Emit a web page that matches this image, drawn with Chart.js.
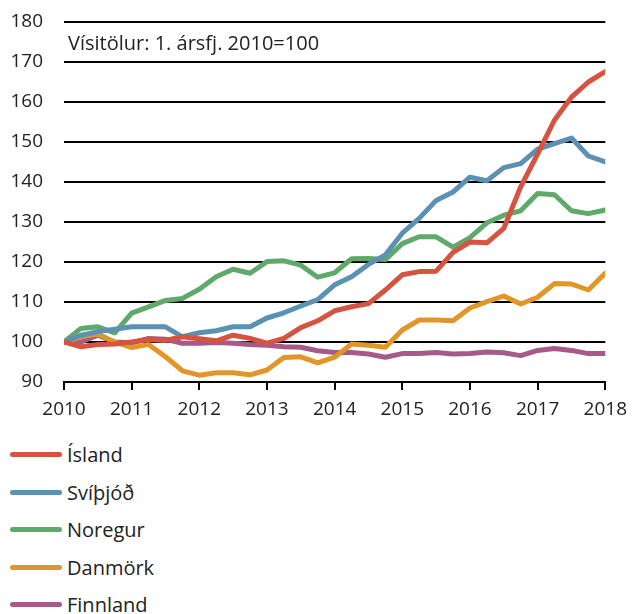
<!DOCTYPE html>
<html>
<head>
<meta charset="utf-8">
<script src="https://cdn.jsdelivr.net/npm/chart.js@4/dist/chart.umd.min.js"></script>
<style>
    body { margin: 0; background: #fff; }
    #wrap { position: relative; width: 635px; height: 614px; font-family: 'Open Sans', sans-serif; color: #222; }
    #note { position: absolute; left: 68px; top: 31px; font-size: 20px; line-height: 24px; }
    #legend { position: absolute; left: 0; top: 436px; }
    .item { position: relative; height: 37.5px; font-size: 20px; line-height: 37px; padding-left: 67px; white-space: nowrap; }
    .swatch { position: absolute; left: 10px; top: 16px; width: 52px; height: 5px; border-radius: 3px; }
</style>
</head>
<body>
<div id="wrap">
    <canvas id="chart" width="635" height="430"></canvas>
    <div id="note">Vísitölur: 1. ársfj. 2010=100</div>
    <div id="legend"></div>
</div>
<script>
// ársfjórðungar 2010 Q1 - 2018 Q1
const startYear = 2010;
const yearTicks = [2010, 2011, 2012, 2013, 2014, 2015, 2016, 2017, 2018];
const yTicks = [90, 100, 110, 120, 130, 140, 150, 160, 170, 180];

const seriesNames = ['Ísland', 'Svíþjóð', 'Noregur', 'Danmörk', 'Finnland'];
const seriesColors = ['#d5533f', '#5b92b3', '#5fa96a', '#e39628', '#a65a89'];

const island   = [100, 98.8, 99.4, 99.5, 100, 100.6, 100.4, 101.3, 100.8, 100.3, 101.7, 100.9, 99.7, 100.9, 103.6, 105.3, 107.8, 108.8, 109.6, 113, 116.8, 117.6, 117.7, 122.4, 125, 124.8, 128.4, 138.8, 147, 155.5, 161.2, 165, 167.6];
const svithjod = [100, 101.7, 102.6, 103.2, 103.8, 103.8, 103.8, 101.3, 102.3, 102.8, 103.8, 103.8, 106, 107.3, 109, 110.6, 114.3, 116.3, 119.4, 121.8, 127.2, 130.9, 135.4, 137.5, 141.2, 140.3, 143.6, 144.6, 148.2, 149.6, 151, 146.5, 145];
const noregur  = [100, 103.4, 103.8, 102.3, 107.2, 108.8, 110.4, 110.9, 113.2, 116.3, 118.2, 117.2, 120.1, 120.3, 119.2, 116.2, 117.3, 120.8, 120.9, 120.6, 124.6, 126.3, 126.3, 123.7, 126.1, 129.8, 131.7, 132.8, 137.1, 136.8, 132.8, 132.1, 133];
const danmork  = [100, 101.3, 102, 100, 98.6, 99.4, 96.3, 92.8, 91.7, 92.3, 92.3, 91.8, 93, 96.1, 96.3, 94.8, 96.2, 99.5, 99.2, 98.7, 103, 105.5, 105.5, 105.3, 108.5, 110.1, 111.5, 109.5, 111.2, 114.6, 114.5, 113, 117.2];
const finnland = [100, 100, 101.7, 100, 99.8, 100.9, 100.7, 99.7, 99.7, 99.9, 99.7, 99.4, 99.2, 98.8, 98.7, 97.8, 97.4, 97.4, 97, 96.2, 97.1, 97.1, 97.4, 97, 97.1, 97.5, 97.3, 96.6, 97.9, 98.4, 97.9, 97.1, 97.1];

const allSeries = [island, svithjod, noregur, danmork, finnland];

const toPoints = (arr) => arr.map((v, i) => ({ x: startYear + i / 4, y: v }));

const datasets = allSeries.map((arr, k) => ({
    label: seriesNames[k],
    data: toPoints(arr),
    borderColor: seriesColors[k],
    borderWidth: 5,
    borderCapStyle: 'round',
    borderJoinStyle: 'round',
    pointRadius: 0,
    tension: 0,
    fill: false
}));

const tickFont = { family: "'Open Sans', sans-serif", size: 19 };

new Chart(document.getElementById('chart').getContext('2d'), {
    type: 'line',
    data: { datasets },
    options: {
        responsive: false,
        animation: false,
        devicePixelRatio: 1,
        layout: { padding: { top: 22, right: 22, left: 0, bottom: 0 } },
        plugins: { legend: { display: false }, tooltip: { enabled: false } },
        scales: {
            x: {
                type: 'linear',
                min: yearTicks[0],
                max: yearTicks[yearTicks.length - 1],
                afterBuildTicks: s => { s.ticks = yearTicks.map(v => ({ value: v })); },
                afterFit: s => { s.height = 48; },
                ticks: { color: '#222', font: tickFont, padding: 8, maxRotation: 0, callback: v => String(v) },
                grid: { display: true, drawOnChartArea: false, drawTicks: true, tickLength: 8, color: '#000', lineWidth: 2 },
                border: { display: true, color: '#000', width: 2 }
            },
            y: {
                min: yTicks[0],
                max: yTicks[yTicks.length - 1],
                afterBuildTicks: s => { s.ticks = yTicks.map(v => ({ value: v })); },
                afterFit: s => { s.width = 64; s.paddingTop = 0; },
                ticks: { color: '#222', font: tickFont, padding: 21 },
                grid: { color: '#000', lineWidth: 2, drawTicks: false },
                border: { display: false }
            }
        }
    }
});

const legend = document.getElementById('legend');
seriesNames.forEach((name, k) => {
    const row = document.createElement('div');
    row.className = 'item';
    const sw = document.createElement('span');
    sw.className = 'swatch';
    sw.style.background = seriesColors[k];
    row.appendChild(sw);
    row.appendChild(document.createTextNode(name));
    legend.appendChild(row);
});
</script>
</body>
</html>
